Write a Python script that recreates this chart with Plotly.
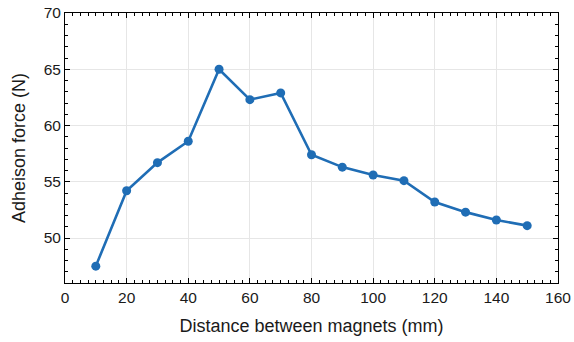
import plotly.graph_objects as go

distance_mm = [10, 20, 30, 40, 50, 60, 70, 80, 90, 100, 110, 120, 130, 140, 150]
adhesion_N = [47.5, 54.2, 56.7, 58.6, 65.0, 62.3, 62.9, 57.4, 56.3, 55.6, 55.1, 53.2, 52.3, 51.6, 51.1]

blue = "#1f6db5"
FONT = "Liberation Sans, Arial, sans-serif"

fig = go.Figure()
fig.add_trace(go.Scatter(
    x=distance_mm, y=adhesion_N, mode="lines+markers",
    line=dict(color=blue, width=2.6),
    marker=dict(color=blue, size=9, symbol="circle"),
    showlegend=False,
))

axis_common = dict(
    showline=True, linecolor="black", linewidth=1, mirror="ticks",
    ticks="inside", ticklen=5, tickwidth=1, tickcolor="black",
    showgrid=True, gridcolor="#e6e6e6", gridwidth=1,
    zeroline=False, automargin=False,
    tickfont=dict(family=FONT, size=15.5, color="#1a1a1a"),
)

fig.update_xaxes(
    range=[0, 160], tick0=0, dtick=20,
    minor=dict(ticks="inside", ticklen=3, tickcolor="black", dtick=2.5, showgrid=False),
    title=dict(text="Distance between magnets (mm)",
               font=dict(family=FONT, size=18, color="#1a1a1a"),
               standoff=14),
    **axis_common,
)
fig.update_yaxes(
    range=[46, 70], tick0=50, dtick=5,
    minor=dict(ticks="inside", ticklen=3, tickcolor="black", dtick=1, tick0=46, showgrid=False),
    title=dict(text="Adheison force (N)",
               font=dict(family=FONT, size=18, color="#1a1a1a"),
               standoff=13),
    **axis_common,
)

fig.update_layout(
    width=574, height=342,
    margin=dict(l=65, r=16, t=13, b=59),
    paper_bgcolor="white", plot_bgcolor="white",
)

fig.write_html(
    "out.html",
    config={"displayModeBar": False},
    post_script="document.body.style.margin='0';document.body.style.padding='0';",
)
